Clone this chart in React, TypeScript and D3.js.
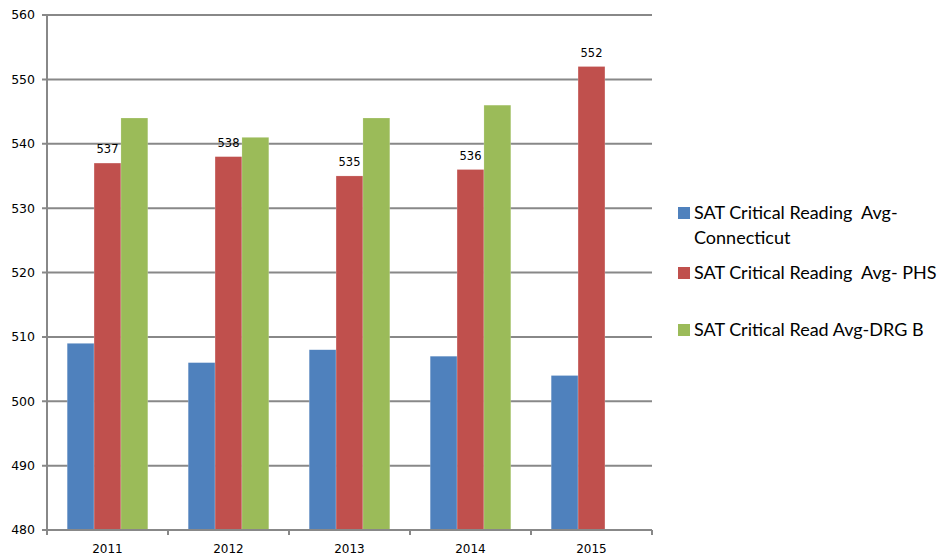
import React from "react";
import * as d3 from "d3";

const years = ["2011", "2012", "2013", "2014", "2015"];
const connecticut = [509, 506, 508, 507, 504];
const phs = [537, 538, 535, 536, 552];
const drgB = [544, 541, 544, 546, null];
const yTicks = [480, 490, 500, 510, 520, 530, 540, 550, 560];

const seriesNames = [
  ["SAT Critical Reading  Avg-", "Connecticut"],
  ["SAT Critical Reading  Avg- PHS"],
  ["SAT Critical Read Avg-DRG B"],
];
const colors = ["#4F81BD", "#C0504D", "#9BBB59"];

export default function App() {
  const width = 944;
  const height = 558;
  const left = 47;
  const right = 652;
  const top = 15;
  const bottom = 530;

  const x = d3.scaleBand().domain(years).range([left, right]);
  const inner = d3
    .scaleBand()
    .domain(["0", "1", "2"])
    .range([0, x.bandwidth()])
    .paddingOuter(0.75)
    .paddingInner(0);
  const y = d3.scaleLinear().domain([480, 560]).range([bottom, top]);

  const allSeries = [connecticut, phs, drgB];
  const legendY = [213, 273, 330];

  return (
    <div style={{ position: "absolute", left: 0, top: 0 }}>
      <svg width={width} height={height} style={{ display: "block" }}>
        <rect width={width} height={height} fill="#fff" />
        {/* gridlines */}
        {yTicks.map((t) => (
          <g key={t}>
            <line x1={left - 5} x2={right} y1={y(t)} y2={y(t)} stroke="#888" strokeWidth={2} />
            <text
              x={35}
              y={y(t)}
              dy="0.35em"
              textAnchor="end"
              fontFamily="DejaVu Sans, Verdana, sans-serif"
              fontSize={12.5}
              fill="#000"
            >
              {t}
            </text>
          </g>
        ))}
        {/* bars */}
        {allSeries.map((s, si) =>
          s.map((v, i) =>
            v == null ? null : (
              <rect
                key={`${si}-${i}`}
                x={(x(years[i]) ?? 0) + (inner(String(si)) ?? 0)}
                y={y(v)}
                width={inner.bandwidth()}
                height={bottom - y(v)}
                fill={colors[si]}
                stroke="#fff"
                strokeOpacity={0.4}
                strokeWidth={0.5}
              />
            )
          )
        )}
        {/* data labels on PHS */}
        {phs.map((v, i) => (
          <text
            key={`l${i}`}
            x={(x(years[i]) ?? 0) + (inner("1") ?? 0) + inner.bandwidth() / 2}
            y={y(v) - 10}
            textAnchor="middle"
            fontFamily="DejaVu Sans, Verdana, sans-serif"
            fontSize={11.5}
            fill="#000"
          >
            {v}
          </text>
        ))}
        {/* axes */}
        <line x1={left} x2={left} y1={top} y2={bottom} stroke="#888" strokeWidth={2} />
        <line x1={left - 5} x2={right} y1={bottom} y2={bottom} stroke="#888" strokeWidth={2} />
        {years.map((yr, i) => (
          <line
            key={`t${yr}`}
            x1={left + i * x.step()}
            x2={left + i * x.step()}
            y1={bottom}
            y2={bottom + 5}
            stroke="#888"
            strokeWidth={2}
          />
        ))}
        <line x1={right} x2={right} y1={bottom} y2={bottom + 5} stroke="#888" strokeWidth={2} />
        {years.map((yr) => (
          <text
            key={`x${yr}`}
            x={(x(yr) ?? 0) + x.bandwidth() / 2}
            y={549}
            dy="0.35em"
            textAnchor="middle"
            fontFamily="DejaVu Sans, Verdana, sans-serif"
            fontSize={12}
            fill="#000"
          >
            {yr}
          </text>
        ))}
        {/* legend */}
        {seriesNames.map((lines, si) => (
          <g key={`lg${si}`}>
            <rect x={678} y={legendY[si] - 6} width={12} height={12} fill={colors[si]} />
            {lines.map((ln, li) => (
              <text
                key={li}
                x={694}
                y={legendY[si] + li * 25}
                dy="0.35em"
                fontFamily="Lato, Carlito, sans-serif"
                fontSize={18}
                fill="#000"
                style={{ whiteSpace: "pre" }}
              >
                {ln}
              </text>
            ))}
          </g>
        ))}
      </svg>
    </div>
  );
}
